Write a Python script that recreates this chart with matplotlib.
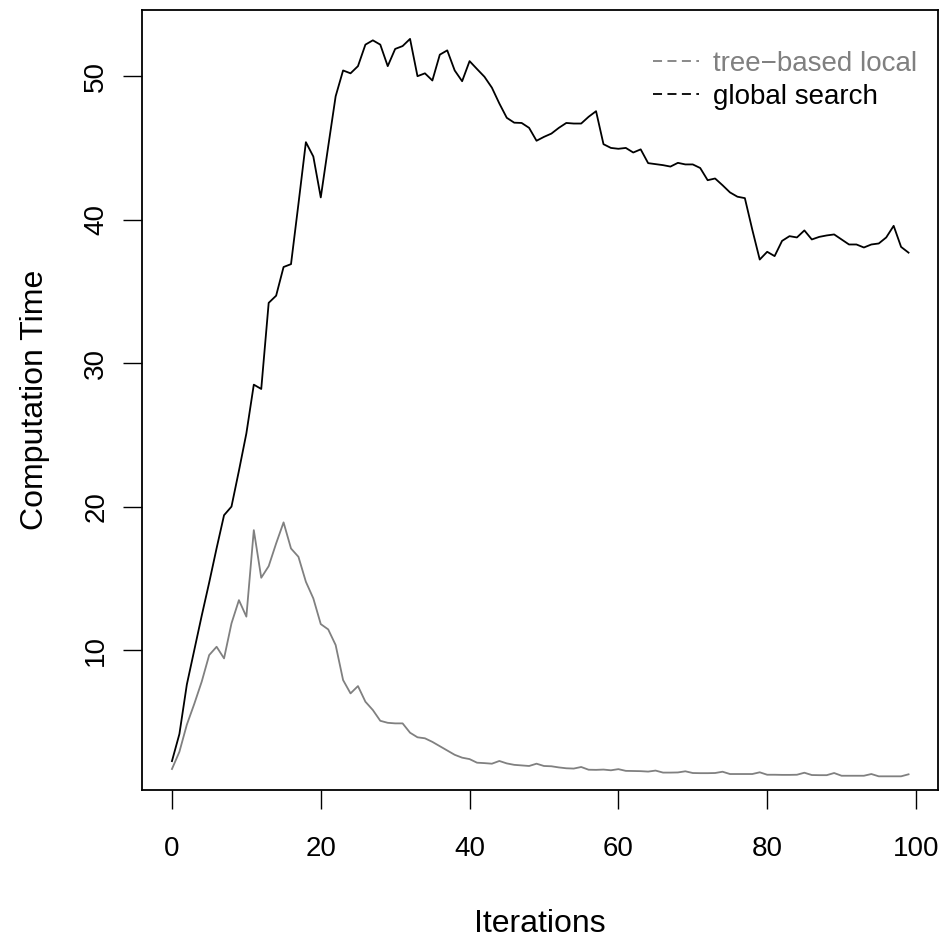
import matplotlib
matplotlib.use("Agg")
import matplotlib.pyplot as plt
from matplotlib.lines import Line2D
import numpy as np

plt.rcParams['font.family'] = ['Liberation Sans', 'DejaVu Sans']

# computation time per iteration, one value per iteration 0..99
global_search = [
    2.26, 4.15, 7.6, 10.0, 12.4, 14.7, 17.1, 19.4, 20.0, 22.5,
    25.1, 28.5, 28.2, 34.2, 34.7, 36.7, 36.9, 41.1, 45.4, 44.4,
    41.55, 45.1, 48.6, 50.4, 50.2, 50.7, 52.2, 52.5, 52.2, 50.7,
    51.9, 52.1, 52.6, 50.0, 50.2, 49.7, 51.5, 51.8, 50.4, 49.65,
    51.05, 50.5, 49.96, 49.2, 48.1, 47.1, 46.76, 46.74, 46.4, 45.5,
    45.77, 46.0, 46.4, 46.74, 46.7, 46.7, 47.17, 47.56, 45.26, 45.0,
    44.94, 45.0, 44.68, 44.9, 43.94, 43.87, 43.8, 43.7, 43.96, 43.85,
    43.85, 43.6, 42.75, 42.87, 42.4, 41.9, 41.6, 41.5, 39.3, 37.22,
    37.76, 37.46, 38.52, 38.85, 38.76, 39.25, 38.62, 38.8, 38.9, 38.97,
    38.62, 38.27, 38.27, 38.06, 38.27, 38.34, 38.76, 39.57, 38.1, 37.7,
]
tree_local = [
    1.71, 2.91, 4.8, 6.25, 7.8, 9.65, 10.23, 9.42, 11.86, 13.48,
    12.33, 18.36, 15.04, 15.85, 17.43, 18.9, 17.08, 16.5, 14.76, 13.6,
    11.81, 11.44, 10.35, 7.91, 6.98, 7.49, 6.4, 5.82, 5.07, 4.93,
    4.89, 4.89, 4.24, 3.92, 3.85, 3.6, 3.3, 3.0, 2.7, 2.5,
    2.4, 2.15, 2.12, 2.08, 2.27, 2.1, 2.0, 1.96, 1.92, 2.08,
    1.92, 1.9, 1.82, 1.76, 1.74, 1.85, 1.66, 1.65, 1.67, 1.62,
    1.7, 1.58, 1.57, 1.56, 1.53, 1.6, 1.46, 1.46, 1.47, 1.55,
    1.43, 1.42, 1.42, 1.43, 1.52, 1.36, 1.36, 1.36, 1.36, 1.48,
    1.31, 1.31, 1.3, 1.3, 1.31, 1.45, 1.29, 1.28, 1.28, 1.43,
    1.24, 1.24, 1.24, 1.24, 1.36, 1.2, 1.2, 1.2, 1.2, 1.34,
]
labels = ["tree\u2212based local", "global search"]
colors = ["#808080", "black"]
x_ticks = [0, 20, 40, 60, 80, 100]
y_ticks = [10, 20, 30, 40, 50]

iterations = np.arange(len(global_search))

fig = plt.figure(figsize=(9.45, 9.44), dpi=100)
ax = fig.add_axes([142.5 / 945, 154 / 944, (938 - 142.5) / 945, 780 / 944])

ax.plot(iterations, global_search, color=colors[1], lw=1.3)
ax.plot(iterations, tree_local, color=colors[0], lw=1.3)

# limits padded by 4% of the data range, y taken from the global series
def padded(lo, hi):
    d = (hi - lo) * 0.04
    return lo - d, hi + d

ax.set_xlim(*padded(iterations.min(), iterations.max()))
ax.set_ylim(*padded(min(global_search), max(global_search)))

ax.set_xticks(x_ticks)
ax.set_yticks(y_ticks)
ax.tick_params(axis='both', direction='out', length=14, width=1.0, labelsize=20)
ax.tick_params(axis='x', pad=19)
ax.tick_params(axis='y', pad=10, labelrotation=90)
for lab in ax.get_yticklabels():
    lab.set_verticalalignment('center')

for side in ax.spines.values():
    side.set_linewidth(1.3)

ax.set_xlabel("Iterations", fontsize=23, labelpad=34)
ax.set_ylabel("Computation Time", fontsize=23, labelpad=24)

handles = [Line2D([], [], color=c, lw=1.3, linestyle=(0, (5, 3))) for c in colors]
leg = fig.legend(handles, labels, loc='upper right',
                 bbox_to_anchor=(917 / 945, (944 - 51) / 944),
                 frameon=False, fontsize=20, handlelength=1.65,
                 handletextpad=0.5, labelspacing=0.25, borderpad=0,
                 borderaxespad=0)
for txt, c in zip(leg.get_texts(), colors):
    txt.set_color(c)

fig.savefig("out.png", dpi=100)
